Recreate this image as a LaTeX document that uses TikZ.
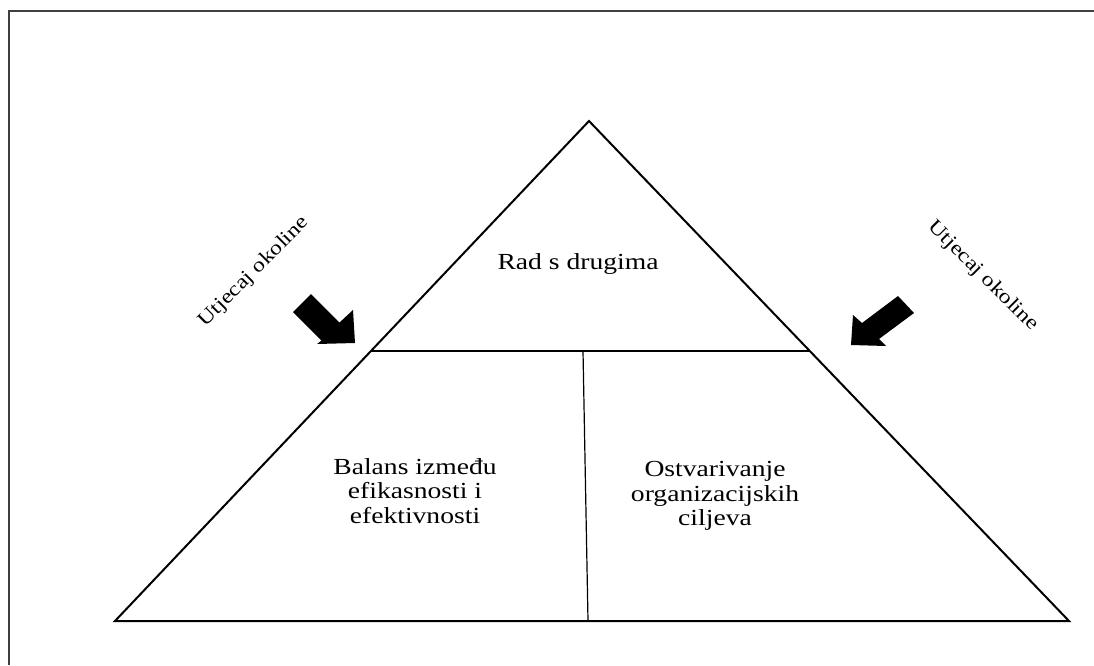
\documentclass[tikz,border=0pt]{standalone}
\usepackage{fontspec}
\setmainfont{Liberation Serif}[FakeStretch=1.2]
\begin{document}
\begin{tikzpicture}[x=1pt,y=-1pt,
  txt/.style={font=\fontsize{23}{24.5}\selectfont, align=center, inner sep=0pt},
  sidetxt/.style={font=\fontsize{20}{22}\selectfont, inner sep=0pt},
  frameline/.style={draw=black!75, line width=2pt},
  outline/.style={draw=black, line width=2pt, line join=miter},
  divider/.style={draw=black, line width=1.2pt},
  blockarrow/.style={fill=black, draw=none}]
\useasboundingbox (0,0) rectangle (1094,665);
% frame
\draw[frameline] (9,665) -- (9,11) -- (1094,11);
% triangle
\coordinate (apex) at (589,121);
\coordinate (bl) at (115,621);
\coordinate (br) at (1069,621);
\coordinate (ml) at (371,351);
\coordinate (mr) at (810,351);
\coordinate (mt) at (583,351);
\coordinate (mb) at (588,621);
\draw[outline] (bl) -- (apex) -- (br) -- cycle;
\draw[divider] (ml) -- (mr);
\draw[divider] (mt) -- (mb);
% texts
\node[txt] (top) at (578,264) {Rad s drugima};
\node[txt] (left) at (415,491) {Balans između\\efikasnosti i\\efektivnosti};
\node[txt] (right) at (715,496) {Ostvarivanje\\organizacijskih\\ciljeva};
\node[sidetxt, rotate=45] (ul) at (254,272) {Utjecaj okoline};
\node[sidetxt, rotate=-45] (ur) at (983,276) {Utjecaj okoline};
% arrows
\fill[blockarrow] (293,312) -- (321.5,340.5) -- (317,344) -- (355,343) -- (353,310) -- (339.5,322.5) -- (311,294) -- cycle;
\fill[blockarrow] (898,296) -- (914,313) -- (879,339) -- (886,346) -- (851,345) -- (853,315) -- (862,323) -- cycle;
\end{tikzpicture}
\end{document}
